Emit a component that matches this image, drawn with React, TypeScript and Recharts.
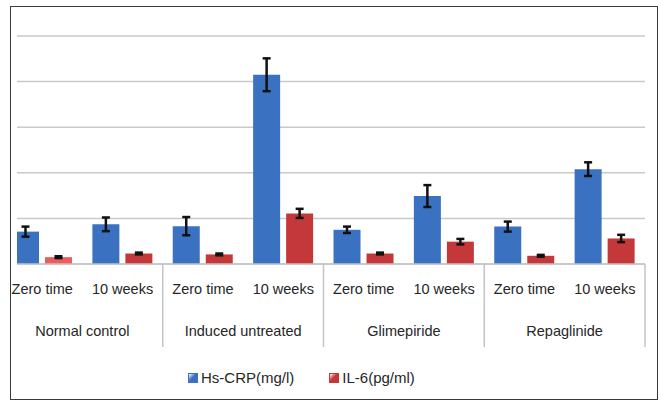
import React from 'react';
import { BarChart, Bar, XAxis, YAxis, CartesianGrid, ErrorBar, Cell } from 'recharts';

const groups = ['Normal control', 'Induced untreated', 'Glimepiride', 'Repaglinide'];
const times = ['Zero time', '10 weeks'];
const seriesNames = ['Hs-CRP(mg/l)', 'IL-6(pg/ml)'];
const crp = [0.71, 0.87, 0.83, 4.15, 0.75, 1.49, 0.82, 2.08];
const crpErr = [0.11, 0.15, 0.2, 0.36, 0.07, 0.24, 0.11, 0.15];
const il6 = [0.15, 0.23, 0.21, 1.11, 0.23, 0.49, 0.18, 0.56];
const il6Err = [0.02, 0.02, 0.02, 0.1, 0.02, 0.06, 0.02, 0.08];

const data = crp.map((v, i) => ({
  key: `${groups[Math.floor(i / 2)]}|${times[i % 2]}`,
  time: times[i % 2],
  group: groups[Math.floor(i / 2)],
  crp: v,
  crpErr: crpErr[i],
  il6: il6[i],
  il6Err: il6Err[i],
}));

const W = 660;
const H = 403;
const M = { top: 36, right: 15, bottom: 39, left: 2 };
const AXIS_H = 100;
const PLOT_W = W - M.left - M.right;
const CAT_W = PLOT_W / data.length;
const BASE_Y = H - M.bottom - AXIS_H;
const FONT = '"Liberation Sans", Arial, sans-serif';
const BLUE = '#3b71c1';
const RED = '#c5383a';
const LIGHT_RED = '#ee5d5b';
const TEXT = '#262626';
const seriesColors = [BLUE, RED];

const Tick = (props: any) => {
  const { x, index, payload } = props;
  const d = data[index];
  const sepStroke = '#c4c4c4';
  return (
    <g>
      <text x={x} y={BASE_Y + 25} textAnchor="middle" dominantBaseline="central" fontSize={14.5} fill={TEXT} fontFamily={FONT}>
        {payload.value}
      </text>
      {index % 2 === 0 && (
        <text x={x + CAT_W / 2} y={BASE_Y + 67} textAnchor="middle" dominantBaseline="central" fontSize={14.5} fill={TEXT} fontFamily={FONT}>
          {d.group}
        </text>
      )}
      {index % 2 === 0 && index > 0 && (
        <line x1={x - CAT_W / 2} x2={x - CAT_W / 2} y1={BASE_Y} y2={BASE_Y + 83} stroke={sepStroke} strokeWidth={1.5} />
      )}
      {index === data.length - 1 && (
        <line x1={x + CAT_W / 2} x2={x + CAT_W / 2} y1={BASE_Y} y2={BASE_Y + 83} stroke={sepStroke} strokeWidth={1.5} />
      )}
    </g>
  );
};

const LegendBox = () => (
  <div
    style={{
      position: 'absolute',
      left: 188,
      top: 369,
      display: 'flex',
      alignItems: 'center',
      fontFamily: FONT,
      fontSize: 15,
      color: TEXT,
      lineHeight: '18px',
    }}
  >
    {seriesNames.map((name, i) => (
      <div key={i} style={{ display: 'flex', alignItems: 'center', marginRight: i === 0 ? 35 : 0 }}>
        <span
          style={{
            display: 'inline-block',
            width: 10,
            height: 10,
            marginRight: 3,
            background: `linear-gradient(135deg, #ffffff66, ${seriesColors[i]} 45%, ${seriesColors[i]})`,
            border: `1px solid ${seriesColors[i]}`,
            boxSizing: 'border-box',
          }}
        />
        <span>{name}</span>
      </div>
    ))}
  </div>
);

export default function App() {
  return (
    <div style={{ position: 'absolute', left: 0, top: 0, width: W, height: H, background: '#fff' }}>
      <BarChart width={W} height={H} data={data} margin={M} barSize={27} barGap={6}>
        <CartesianGrid horizontal vertical={false} stroke="#c9c9c9" strokeWidth={1.5} />
        <YAxis hide domain={[0, 5]} ticks={[0, 1, 2, 3, 4, 5]} />
        <XAxis
          dataKey="time"
          height={AXIS_H}
          interval={0}
          tickLine={false}
          axisLine={{ stroke: '#c4c4c4', strokeWidth: 1.5 }}
          tick={<Tick />}
        />
        <Bar dataKey="crp" name={seriesNames[0]} fill={BLUE} isAnimationActive={false}>
          <ErrorBar dataKey="crpErr" width={4} stroke="#111" strokeWidth={2.5} direction="y" />
        </Bar>
        <Bar dataKey="il6" name={seriesNames[1]} fill={RED} isAnimationActive={false}>
          {data.map((_, i) => (
            <Cell key={i} fill={i === 0 ? LIGHT_RED : RED} />
          ))}
          <ErrorBar dataKey="il6Err" width={4} stroke="#111" strokeWidth={2.5} direction="y" />
        </Bar>
      </BarChart>
      <div style={{ position: 'absolute', left: 0, top: 20, width: 17, height: BASE_Y - 19, background: '#fff' }} />
      <LegendBox />
      <div
        style={{
          position: 'absolute',
          left: 10,
          top: 6,
          width: 648,
          height: 394,
          border: '1.5px solid #3a3a3a',
          boxSizing: 'border-box',
          pointerEvents: 'none',
        }}
      />
    </div>
  );
}
